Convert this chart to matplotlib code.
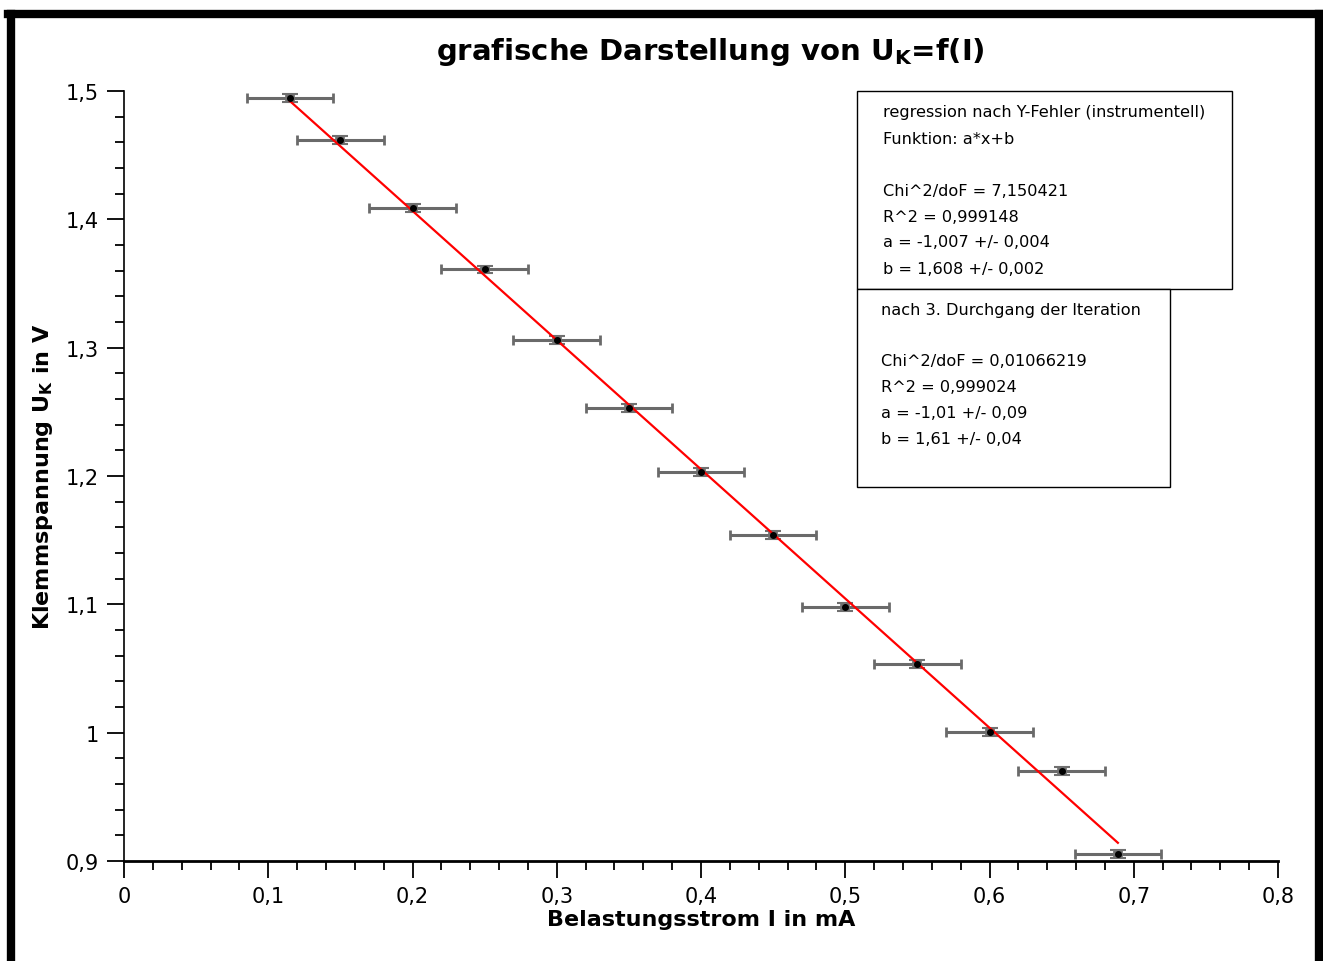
import numpy as np
import matplotlib

matplotlib.use("Agg")
import matplotlib.pyplot as plt
from matplotlib.lines import Line2D
from matplotlib.ticker import MultipleLocator, FuncFormatter

plt.rcParams["font.family"] = ["DejaVu Sans"]
plt.rcParams["mathtext.fontset"] = "dejavusans"

# measured values
strom_mA = [0.115, 0.15, 0.2, 0.25, 0.3, 0.35, 0.4, 0.45, 0.5, 0.55, 0.6, 0.65, 0.689]
spannung_V = [1.4945, 1.462, 1.409, 1.361, 1.306, 1.253, 1.203, 1.154, 1.098, 1.0534, 1.0004, 0.970, 0.9054]
strom_err = [0.03] * 13
spannung_err = [0.003] * 13

# fit parameters (regression)
fit_a, fit_b = -1.007, 1.608

box1_lines = [
    "regression nach Y-Fehler (instrumentell)",
    "Funktion: a*x+b",
    "",
    "Chi^2/doF = 7,150421",
    "R^2 = 0,999148",
    "a = -1,007 +/- 0,004",
    "b = 1,608 +/- 0,002",
]
box2_lines = [
    "nach 3. Durchgang der Iteration",
    "",
    "Chi^2/doF = 0,01066219",
    "R^2 = 0,999024",
    "a = -1,01 +/- 0,09",
    "b = 1,61 +/- 0,04",
]

W, H = 1323, 962
fig = plt.figure(figsize=(W / 100, H / 100), dpi=100)
ax = fig.add_axes([124 / W, 1 - 862 / H, (1278 - 124) / W, (862 - 92) / H])

# error bars
ax.errorbar(strom_mA, spannung_V, xerr=strom_err, fmt="none", ecolor="#6a6a6a",
            elinewidth=2.2, capsize=3.8, capthick=2, zorder=2)
ax.errorbar(strom_mA, spannung_V, yerr=spannung_err, fmt="none", ecolor="#707070",
            elinewidth=7, capsize=5.5, capthick=1.5, zorder=2)
ax.plot(strom_mA, spannung_V, "o", color="black", markersize=4, zorder=4)

# fit line
x_fit = np.array([min(strom_mA), max(strom_mA)])
ax.plot(x_fit, fit_a * x_fit + fit_b, color="red", linewidth=1.6, zorder=3)

ax.set_xlim(0, 0.8)
ax.set_ylim(0.9, 1.5)
for side in ["top", "right"]:
    ax.spines[side].set_visible(False)
ax.spines["left"].set_linewidth(1.2)
ax.spines["bottom"].set_linewidth(2)

comma = FuncFormatter(lambda v, p: ("%g" % round(v, 3)).replace(".", ","))
ax.xaxis.set_major_locator(MultipleLocator(0.1))
ax.xaxis.set_minor_locator(MultipleLocator(0.02))
ax.yaxis.set_major_locator(MultipleLocator(0.1))
ax.yaxis.set_minor_locator(MultipleLocator(0.02))
ax.xaxis.set_major_formatter(comma)
ax.yaxis.set_major_formatter(comma)
ax.tick_params(which="major", direction="out", length=12, width=1.3, labelsize=15, pad=6)
ax.tick_params(which="minor", direction="out", length=6.5, width=1.3)

ax.set_xlabel(r"Belastungsstrom I in mA", fontsize=16, fontweight="bold", labelpad=2)
ax.set_ylabel(r"Klemmspannung U$_\mathbf{K}$ in V", fontsize=16, fontweight="bold", labelpad=8)
fig.text(0.537, 1 - 52 / H, r"grafische Darstellung von U$_\mathbf{K}$=f(I)",
         fontsize=21, fontweight="bold", ha="center", va="center")

# info boxes
def info_box(x0, y0, x1, y1, lines, tx, ty):
    fig.patches.append(plt.Rectangle((x0 / W, 1 - y1 / H), (x1 - x0) / W, (y1 - y0) / H,
                                     transform=fig.transFigure, fill=True, facecolor="white",
                                     edgecolor="black", linewidth=1.0, zorder=5))
    for k, line in enumerate(lines):
        fig.text(tx / W, 1 - (ty + 26 * k) / H, line, fontsize=11.6, ha="left", va="center",
                 zorder=6)

info_box(857, 92, 1232, 290, box1_lines, 883, 113)
info_box(857, 290, 1170, 488, box2_lines, 881, 310)

# outer frame
for xs, ys in [([8, 1319], [15, 15]), ([11, 11], [15, 980]), ([1319, 1319], [15, 980])]:
    fig.add_artist(Line2D([x / W for x in xs], [1 - y / H for y in ys],
                          transform=fig.transFigure, color="black", linewidth=6))

fig.savefig("out.png", dpi=100)
